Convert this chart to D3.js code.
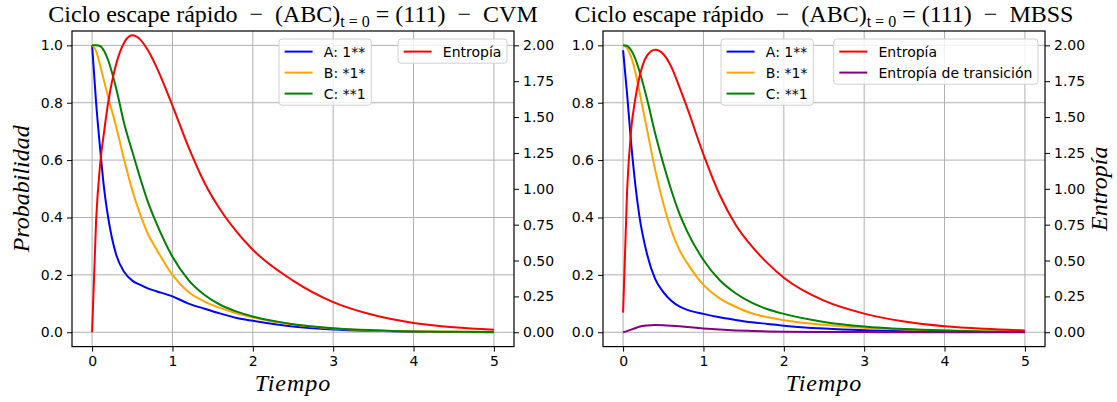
<!DOCTYPE html>
<html>
<head>
<meta charset="utf-8">
<script src="https://cdn.jsdelivr.net/npm/d3@7"></script>
<style>
  body { margin: 0; background: #fff; }
  svg { display: block; }
  text { white-space: pre; }
</style>
</head>
<body>
<svg id="chart" width="1117" height="402"></svg>
<script>
// ---------- data ----------
const tiempo = [0, 0.05, 0.1, 0.15, 0.2, 0.3, 0.4, 0.5, 0.6, 0.7, 0.8, 1.0, 1.2, 1.4, 1.6, 1.8, 2.0, 2.5, 3.0, 3.5, 4.0, 4.5, 5.0];

// CVM
const cvmA = [1.0, 0.80, 0.64, 0.50, 0.40, 0.27, 0.21, 0.18, 0.165, 0.152, 0.143, 0.125, 0.10, 0.082, 0.065, 0.05, 0.04, 0.02, 0.01, 0.005, 0.002, 0.001, 0.0];
const cvmB = [1.0, 0.98, 0.93, 0.875, 0.82, 0.716, 0.60, 0.495, 0.41, 0.34, 0.29, 0.20, 0.14, 0.107, 0.084, 0.066, 0.052, 0.027, 0.013, 0.006, 0.003, 0.0015, 0.0007];
const cvmC = [1.0, 1.0, 0.998, 0.98, 0.948, 0.85, 0.727, 0.63, 0.536, 0.45, 0.38, 0.263, 0.182, 0.13, 0.095, 0.072, 0.055, 0.028, 0.014, 0.007, 0.003, 0.0015, 0.0007];
const cvmEntropia = [0, 0.78, 1.17, 1.40, 1.60, 1.87, 2.02, 2.07, 2.04, 1.96, 1.85, 1.58, 1.29, 1.04, 0.85, 0.70, 0.575, 0.36, 0.21, 0.12, 0.065, 0.035, 0.018];

// MBSS
const mbssA = [0.983, 0.83, 0.66, 0.52, 0.41, 0.27, 0.185, 0.14, 0.11, 0.09, 0.078, 0.064, 0.052, 0.043, 0.035, 0.029, 0.023, 0.013, 0.007, 0.004, 0.002, 0.001, 0.0005];
const mbssB = [1.0, 0.99, 0.96, 0.91, 0.843, 0.704, 0.565, 0.45, 0.356, 0.287, 0.24, 0.165, 0.118, 0.089, 0.066, 0.052, 0.042, 0.026, 0.016, 0.01, 0.006, 0.003, 0.002];
const mbssC = [1.0, 0.998, 0.983, 0.955, 0.913, 0.81, 0.692, 0.588, 0.495, 0.414, 0.35, 0.252, 0.182, 0.136, 0.103, 0.08, 0.064, 0.036, 0.02, 0.011, 0.006, 0.003, 0.002];
const mbssEntropia = [0.137, 0.99, 1.41, 1.62, 1.77, 1.93, 1.97, 1.94, 1.85, 1.71, 1.56, 1.24, 0.96, 0.75, 0.60, 0.48, 0.38, 0.22, 0.13, 0.075, 0.042, 0.024, 0.013];
const mbssTransicion = [0, 0.008, 0.018, 0.028, 0.038, 0.047, 0.05, 0.049, 0.046, 0.042, 0.037, 0.027, 0.019, 0.013, 0.009, 0.006, 0.004, 0.002, 0.001, 0.0005, 0.0002, 0.0001, 0];

const xTicks = [0, 1, 2, 3, 4, 5];
const probTicks = [0, 0.2, 0.4, 0.6, 0.8, 1.0];
const entTicks = [0, 0.25, 0.5, 0.75, 1.0, 1.25, 1.5, 1.75, 2.0];

const colors = { A: "blue", B: "orange", C: "green", S: "red", T: "purple" };

// ---------- layout ----------
const svg = d3.select("#chart");
const plotTop = 31, plotBottom = 346.6;
const tickFont = "'DejaVu Sans', sans-serif";
const serif = "'Liberation Serif', 'DejaVu Serif', serif";

const panels = [
  {
    left: 72, right: 514, tag: "CVM",
    prob: [["A", "A: 1**", cvmA], ["B", "B: *1*", cvmB], ["C", "C: **1", cvmC]],
    ent: [["S", "Entropía", cvmEntropia]],
    legend1X: 279, showProbLabel: true, showEntLabel: false
  },
  {
    left: 603, right: 1045, tag: "MBSS",
    prob: [["A", "A: 1**", mbssA], ["B", "B: *1*", mbssB], ["C", "C: **1", mbssC]],
    ent: [["S", "Entropía", mbssEntropia], ["T", "Entropía de transición", mbssTransicion]],
    legend1X: 721, showProbLabel: false, showEntLabel: true
  }
];

function drawLegend(g, items, x, yTop, alignRight) {
  const fs = 14, pad = 5.6, rowH = 21, handle = 28, gap = 11.2;
  const lg = g.append("g");
  const box = lg.append("rect");
  const texts = [];
  items.forEach((it, i) => {
    const cy = yTop + pad + 7 + i * rowH;
    lg.append("line")
      .attr("x1", pad).attr("x2", pad + handle)
      .attr("y1", cy).attr("y2", cy)
      .attr("stroke", colors[it[0]]).attr("stroke-width", 2);
    texts.push(lg.append("text")
      .attr("x", pad + handle + gap).attr("y", cy)
      .attr("dy", "0.36em")
      .attr("font-family", tickFont).attr("font-size", fs)
      .attr("fill", "#000")
      .text(it[1]));
  });
  const tw = d3.max(texts, t => t.node().getComputedTextLength());
  const w = pad + handle + gap + tw + pad;
  const h = pad * 2 + 14 + (items.length - 1) * rowH - 1;
  box.attr("x", 0).attr("y", yTop).attr("width", w).attr("height", h)
    .attr("rx", 3).attr("fill", "rgba(255,255,255,0.8)")
    .attr("stroke", "#d0d0d0").attr("stroke-width", 1);
  lg.attr("transform", `translate(${alignRight ? x - w : x},0)`);
}

panels.forEach(p => {
  const g = svg.append("g");
  const x = d3.scaleLinear().domain([-0.25, 5.25]).range([p.left, p.right]);
  const y = d3.scaleLinear().domain([-0.05, 1.05]).range([plotBottom, plotTop]);
  const y2 = d3.scaleLinear().domain([-0.1, 2.1]).range([plotBottom, plotTop]);

  // grid
  g.append("g").selectAll("line").data(xTicks).join("line")
    .attr("x1", d => x(d)).attr("x2", d => x(d))
    .attr("y1", plotTop).attr("y2", plotBottom)
    .attr("stroke", "#b0b0b0").attr("stroke-width", 1);
  g.append("g").selectAll("line").data(probTicks).join("line")
    .attr("x1", p.left).attr("x2", p.right)
    .attr("y1", d => y(d)).attr("y2", d => y(d))
    .attr("stroke", "#b0b0b0").attr("stroke-width", 1);

  const line = (sc) => d3.line()
    .x((d, i) => x(tiempo[i]))
    .y(d => sc(d))
    .curve(d3.curveMonotoneX);

  p.prob.forEach(s => {
    g.append("path").datum(s[2])
      .attr("d", line(y)).attr("fill", "none")
      .attr("stroke", colors[s[0]]).attr("stroke-width", 2);
  });
  drawLegend(g, p.prob, p.legend1X, 39, false);

  p.ent.forEach(s => {
    g.append("path").datum(s[2])
      .attr("d", line(y2)).attr("fill", "none")
      .attr("stroke", colors[s[0]]).attr("stroke-width", 2);
  });
  drawLegend(g, p.ent, p.right - 7, 39, true);

  // axes
  const ax = d3.axisBottom(x).tickValues(xTicks).tickFormat(d3.format("d")).tickSize(5).tickPadding(4);
  const ayl = d3.axisLeft(y).tickValues(probTicks).tickFormat(d3.format(".1f")).tickSize(5).tickPadding(4);
  const ayr = d3.axisRight(y2).tickValues(entTicks).tickFormat(d3.format(".2f")).tickSize(5).tickPadding(4);

  [[ax, `translate(0,${plotBottom})`], [ayl, `translate(${p.left},0)`], [ayr, `translate(${p.right},0)`]]
    .forEach(([a, tr]) => {
      const ag = g.append("g").attr("transform", tr).call(a);
      ag.select(".domain").remove();
      ag.selectAll("line").attr("stroke", "#000").attr("stroke-width", 1);
      ag.selectAll("text").attr("font-family", tickFont).attr("font-size", 14).attr("fill", "#000");
    });

  g.append("rect")
    .attr("x", p.left).attr("y", plotTop)
    .attr("width", p.right - p.left).attr("height", plotBottom - plotTop)
    .attr("fill", "none").attr("stroke", "#000").attr("stroke-width", 1.2);

  // title
  const cx = (p.left + p.right) / 2;
  const title = g.append("text")
    .attr("x", cx).attr("y", 22)
    .attr("text-anchor", "middle")
    .attr("font-family", serif).attr("font-size", 24).attr("fill", "#000");
  title.append("tspan").text("Ciclo escape rápido  −  (ABC)");
  title.append("tspan").attr("dy", 5).attr("font-size", 16).text("t = 0");
  title.append("tspan").attr("dy", -5).text(" = (111)  −  " + p.tag);

  g.append("text")
    .attr("x", cx).attr("y", 391)
    .attr("text-anchor", "middle")
    .attr("font-family", serif).attr("font-style", "italic").attr("font-size", 24)
    .attr("letter-spacing", 1)
    .text("Tiempo");

  if (p.showProbLabel) {
    g.append("text")
      .attr("transform", `translate(29,${(plotTop + plotBottom) / 2}) rotate(-90)`)
      .attr("text-anchor", "middle")
      .attr("font-family", serif).attr("font-style", "italic").attr("font-size", 24)
      .text("Probabilidad");
  }
  if (p.showEntLabel) {
    g.append("text")
      .attr("transform", `translate(1107,${(plotTop + plotBottom) / 2}) rotate(-90)`)
      .attr("text-anchor", "middle")
      .attr("font-family", serif).attr("font-style", "italic").attr("font-size", 24)
      .text("Entropía");
  }
});
</script>
</body>
</html>
